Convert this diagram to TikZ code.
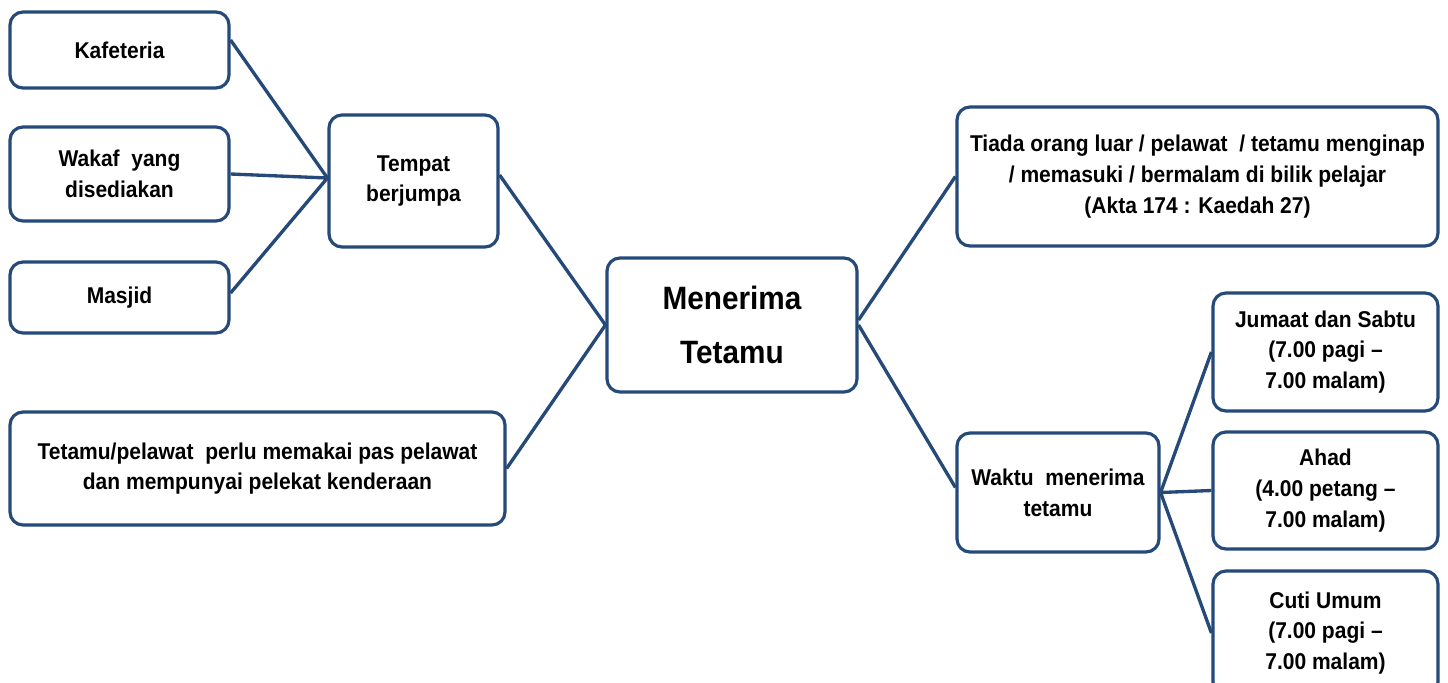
\documentclass[tikz,border=0pt]{standalone}
\usepackage{fontspec}
\setmainfont[FakeStretch=0.92]{Liberation Sans}
\usetikzlibrary{positioning}
\definecolor{navy}{RGB}{37,74,122}
\tikzstyle{box}=[draw=navy,line width=1.8pt,rounded corners=0.26cm,fill=white,align=center,inner sep=0pt,font=\bfseries\fontsize{13}{17.5}\selectfont]
\tikzstyle{link}=[draw=navy,line width=1.9pt]

\begin{document}
\begin{tikzpicture}[x=0.02cm,y=-0.02cm]
\useasboundingbox (0,0) rectangle (1448,683);
\node[box,minimum width=219*0.02cm,minimum height=76*0.02cm] at (119.5, 50) (kaf) {Kafeteria};
\node[box,minimum width=219*0.02cm,minimum height=94*0.02cm] at (119.5, 174) (wakaf) {Wakaf~ yang\\disediakan};
\node[box,minimum width=219*0.02cm,minimum height=71*0.02cm] at (119.5, 297.5) (masjid) {Masjid};
\node[box,minimum width=169*0.02cm,minimum height=132*0.02cm] at (413.5, 181) (tempat) {Tempat\\berjumpa};
\node[box,minimum width=250*0.02cm,minimum height=134*0.02cm,font=\bfseries\fontsize{18.4}{31}\selectfont] at (732, 325) (terima) {Menerima\\Tetamu};
\node[box,minimum width=495*0.02cm,minimum height=113*0.02cm] at (257.5, 468.5) (pas) {Tetamu/pelawat~ perlu memakai pas pelawat\\dan mempunyai pelekat kenderaan};
\node[box,minimum width=481*0.02cm,minimum height=139*0.02cm] at (1197.5, 176.5) (tiada) {Tiada orang luar / pelawat~ / tetamu menginap\\/ memasuki / bermalam di bilik pelajar\\(Akta 174 : Kaedah 27)};
\node[box,minimum width=202*0.02cm,minimum height=119*0.02cm] at (1058, 492.5) (waktu) {Waktu~ menerima\\tetamu};
\node[box,minimum width=225*0.02cm,minimum height=118*0.02cm] at (1325.5, 352) (jumaat) {Jumaat dan Sabtu\\(7.00 pagi --\\7.00 malam)};
\node[box,minimum width=225*0.02cm,minimum height=117*0.02cm] at (1325.5, 490.5) (ahad) {Ahad\\(4.00 petang --\\7.00 malam)};
\node[box,minimum width=225*0.02cm,minimum height=124*0.02cm] at (1325.5, 633) (cuti) {Cuti Umum\\(7.00 pagi --\\7.00 malam)};
\draw[link] ([yshift=0.2cm]kaf.east) -- ([yshift=0.06cm]tempat.west);
\draw[link] (wakaf.east) -- ([yshift=0.06cm]tempat.west);
\draw[link] ([yshift=0.09cm]masjid.east) -- ([yshift=0.06cm]tempat.west);
\draw[link] ([yshift=0.12cm]tempat.east) -- (terima.west);
\draw[link] (pas.east) -- (terima.west);
\draw[link] ([yshift=0.1cm]terima.east) -- (tiada.west);
\draw[link] (terima.east) -- ([yshift=0.1cm]waktu.west);
\draw[link] (waktu.east) -- (jumaat.west);
\draw[link] (waktu.east) -- (ahad.west);
\draw[link] (waktu.east) -- (cuti.west);
\end{tikzpicture}
\end{document}
